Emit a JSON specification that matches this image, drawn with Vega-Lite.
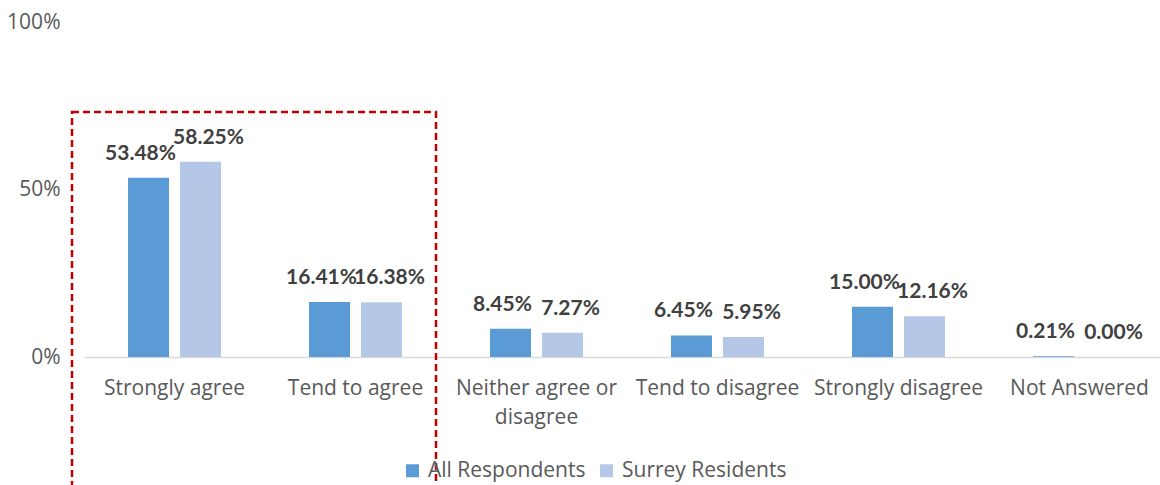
{
  "$schema": "https://vega.github.io/schema/vega-lite/v6.json",
  "width": 1086,
  "height": 335,
  "autosize": {"type": "none"},
  "padding": {"left": 84, "top": 22, "right": 0, "bottom": 128},
  "background": "white",
  "config": {"view": {"stroke": null}, "font": "Open Sans"},
  "datasets": {
    "bars": [
      {"category": "Strongly agree", "series": "All Respondents", "value": 0.5348},
      {"category": "Strongly agree", "series": "Surrey Residents", "value": 0.5825},
      {"category": "Tend to agree", "series": "All Respondents", "value": 0.1641},
      {"category": "Tend to agree", "series": "Surrey Residents", "value": 0.1638},
      {"category": "Neither agree or disagree", "series": "All Respondents", "value": 0.0845},
      {"category": "Neither agree or disagree", "series": "Surrey Residents", "value": 0.0727},
      {"category": "Tend to disagree", "series": "All Respondents", "value": 0.0645},
      {"category": "Tend to disagree", "series": "Surrey Residents", "value": 0.0595},
      {"category": "Strongly disagree", "series": "All Respondents", "value": 0.15},
      {"category": "Strongly disagree", "series": "Surrey Residents", "value": 0.1216},
      {"category": "Not Answered", "series": "All Respondents", "value": 0.0021},
      {"category": "Not Answered", "series": "Surrey Residents", "value": 0.0}
    ],
    "box": [{"top": 0.731, "bottom": -0.5}]
  },
  "layer": [
    {
      "data": {"name": "bars"},
      "mark": {"type": "bar"},
      "encoding": {
        "x": {
          "field": "category",
          "type": "nominal",
          "title": null,
          "scale": {
            "domain": ["Strongly agree", "Tend to agree", "Neither agree or disagree", "Tend to disagree", "Strongly disagree", "Not Answered"],
            "paddingInner": 0,
            "paddingOuter": 0
          },
          "axis": {
            "labelAngle": 0,
            "ticks": false,
            "labelPadding": 20,
            "labelFontSize": 21,
            "labelColor": "#595959",
            "domainColor": "#D9D9D9",
            "domainWidth": 1.3,
            "labelLimit": 0,
            "labelLineHeight": 29,
            "labelExpr": "datum.label == 'Neither agree or disagree' ? ['Neither agree or', 'disagree'] : datum.label"
          }
        },
        "xOffset": {
          "field": "series",
          "type": "nominal",
          "scale": {"domain": ["All Respondents", "Surrey Residents"], "paddingInner": 0.2115, "paddingOuter": 0.846}
        },
        "y": {
          "field": "value",
          "type": "quantitative",
          "title": null,
          "scale": {"domain": [0, 1]},
          "axis": {
            "values": [0, 0.5, 1],
            "format": ".0%",
            "domain": false,
            "ticks": false,
            "grid": false,
            "labelPadding": 24,
            "labelFontSize": 21,
            "labelColor": "#595959"
          }
        },
        "color": {
          "field": "series",
          "type": "nominal",
          "scale": {"domain": ["All Respondents", "Surrey Residents"], "range": ["#5B9BD5", "#B4C7E7"]},
          "legend": {
            "title": null,
            "orient": "none",
            "legendX": 318,
            "legendY": 438,
            "direction": "horizontal",
            "symbolType": "square",
            "symbolSize": 169,
            "symbolStrokeWidth": 0,
            "labelFontSize": 21,
            "labelColor": "#595959",
            "labelLimit": 0,
            "columnPadding": 10,
            "labelOffset": 5,
            "padding": 0
          }
        }
      }
    },
    {
      "data": {"name": "bars"},
      "transform": [{"filter": "datum.series == 'All Respondents'"}],
      "mark": {"type": "text", "font": "Lato", "fontWeight": "bold", "fontSize": 21, "fill": "#404040", "baseline": "alphabetic", "dy": -18, "dx": -8},
      "encoding": {
        "x": {"field": "category", "type": "nominal", "title": null},
        "xOffset": {"field": "series", "type": "nominal"},
        "y": {"field": "value", "type": "quantitative", "title": null},
        "text": {"field": "value", "type": "quantitative", "format": ".2%"}
      }
    },
    {
      "data": {"name": "bars"},
      "transform": [{"filter": "datum.series == 'Surrey Residents'"}],
      "mark": {"type": "text", "font": "Lato", "fontWeight": "bold", "fontSize": 21, "fill": "#404040", "baseline": "alphabetic", "dy": -18, "dx": 8},
      "encoding": {
        "x": {"field": "category", "type": "nominal", "title": null},
        "xOffset": {"field": "series", "type": "nominal"},
        "y": {"field": "value", "type": "quantitative", "title": null},
        "text": {"field": "value", "type": "quantitative", "format": ".2%"}
      }
    },
    {
      "data": {"name": "box"},
      "mark": {"type": "rect", "filled": false, "stroke": "#C00000", "strokeWidth": 2.5, "strokeDash": [7, 4], "xOffset": -12, "x2Offset": -10},
      "encoding": {
        "x": {"datum": "Strongly agree", "type": "nominal", "bandPosition": 0, "title": null},
        "x2": {"datum": "Tend to agree", "bandPosition": 1},
        "y": {"field": "top", "type": "quantitative", "title": null},
        "y2": {"field": "bottom"}
      }
    }
  ]
}
